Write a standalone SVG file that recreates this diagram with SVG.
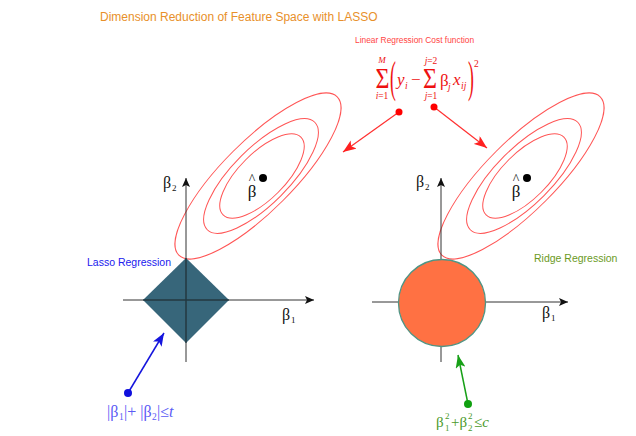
<svg xmlns="http://www.w3.org/2000/svg" width="636" height="436" viewBox="0 0 636 436">
<style>
.axis{stroke:#333;stroke-width:1;fill:none}
.ell{stroke:#ff5555;stroke-width:1;fill:none}
.serif{font-family:"Liberation Serif","DejaVu Serif",serif}
.sans{font-family:"Liberation Sans",Arial,sans-serif}
.blk{fill:#111}
.red{fill:#ee1111}
.blue{fill:#5a5af5}
.grn{fill:#4a9a2a}
</style>
<defs>
<marker id="ah" markerUnits="userSpaceOnUse" markerWidth="10" markerHeight="8" refX="9" refY="4" orient="auto"><path d="M0,0 L9,4 L0,8 L2,4 Z" fill="#111"/></marker>
<marker id="ar" markerUnits="userSpaceOnUse" markerWidth="14" markerHeight="10" refX="13" refY="5" orient="auto"><path d="M0,0 L13,5 L0,10 L3,5 Z" fill="#ff2020"/></marker>
<marker id="ab" markerUnits="userSpaceOnUse" markerWidth="14" markerHeight="10" refX="13" refY="5" orient="auto"><path d="M0,0 L13,5 L0,10 L3,5 Z" fill="#1515dd"/></marker>
<marker id="ag" markerUnits="userSpaceOnUse" markerWidth="14" markerHeight="10" refX="13" refY="5" orient="auto"><path d="M0,0 L13,5 L0,10 L3,5 Z" fill="#18a018"/></marker>
</defs>
<rect width="636" height="436" fill="#fff"/>

<text class="sans" x="100" y="21" font-size="12" fill="#e8902a">Dimension Reduction of Feature Space with LASSO</text>

<g id="cost-function">
<text class="sans" x="355" y="43" font-size="8.4" fill="#ff4444">Linear Regression Cost function</text>
<g class="serif red">
<text transform="translate(382.5,88) scale(0.8,1)" font-size="30" text-anchor="middle">Σ</text>
<text x="382" y="63" font-size="9" font-style="italic" text-anchor="middle">M</text>
<text x="382" y="99" font-size="9.5" text-anchor="middle"><tspan font-style="italic">i</tspan>=1</text>
<text transform="translate(390,92) scale(0.4,1)" font-size="44">(</text>
<text x="397" y="85" font-size="17" font-style="italic">y</text>
<text x="405" y="89" font-size="9.5" font-style="italic">i</text>
<text x="411" y="85" font-size="17">−</text>
<text transform="translate(430,88) scale(0.8,1)" font-size="30" text-anchor="middle">Σ</text>
<text x="431" y="64" font-size="9.5" text-anchor="middle"><tspan font-style="italic">j</tspan>=2</text>
<text x="431" y="99" font-size="9.5" text-anchor="middle"><tspan font-style="italic">j</tspan>=1</text>
<text x="440" y="86" font-size="17">β</text>
<text x="448" y="90" font-size="9.5" font-style="italic">j</text>
<text x="453" y="85" font-size="17" font-style="italic">x</text>
<text x="461" y="89" font-size="9.5" font-style="italic">ij</text>
<text transform="translate(468,92) scale(0.4,1)" font-size="44">)</text>
<text x="474" y="67" font-size="9.5">2</text>
</g>
</g>

<g id="lasso-panel">
<g id="lasso-contours">
<ellipse class="ell" cx="258" cy="176" rx="112" ry="35" transform="rotate(-45 258 176)"/>
<ellipse class="ell" cx="261" cy="176" rx="76" ry="28" transform="rotate(-45 261 176)"/>
<ellipse class="ell" cx="262" cy="176" rx="55" ry="23" transform="rotate(-45 262 176)"/>
<circle cx="263" cy="178" r="4" fill="#000"/>
<text class="serif blk" x="252" y="184" font-size="14" text-anchor="middle">^</text>
<text class="serif blk" x="252" y="197" font-size="17" text-anchor="middle">β</text>
</g>
<g id="lasso-region">
<polygon points="186,258 229,300 186,343 143,300" fill="#37667a"/>
</g>
<g id="lasso-axes">
<line class="axis" x1="123" y1="300" x2="314" y2="300" marker-end="url(#ah)"/>
<line class="axis" x1="186" y1="362" x2="186" y2="178" marker-end="url(#ah)"/>
<line x1="143" y1="300" x2="229" y2="300" stroke="#1d3a46" stroke-width="1"/>
<line x1="186" y1="258" x2="186" y2="343" stroke="#1d3a46" stroke-width="1"/>
<text class="serif blk" x="163" y="188" font-size="16">β</text>
<text class="serif blk" x="172" y="191" font-size="9">2</text>
<text class="serif blk" x="282" y="320" font-size="16">β</text>
<text class="serif blk" x="291" y="323" font-size="9">1</text>
</g>
<text id="lasso-label" class="sans" x="87" y="266" font-size="10.5" fill="#2020ee">Lasso Regression</text>
</g>

<g id="ridge-panel">
<g id="ridge-contours">
<ellipse class="ell" cx="521" cy="176" rx="112" ry="35" transform="rotate(-45 521 176)"/>
<ellipse class="ell" cx="524" cy="176" rx="76" ry="28" transform="rotate(-45 524 176)"/>
<ellipse class="ell" cx="525" cy="176" rx="55" ry="23" transform="rotate(-45 525 176)"/>
<circle cx="527" cy="178" r="4" fill="#000"/>
<text class="serif blk" x="516" y="184" font-size="14" text-anchor="middle">^</text>
<text class="serif blk" x="516" y="197" font-size="17" text-anchor="middle">β</text>
</g>
<g id="ridge-axes">
<line class="axis" x1="372" y1="302" x2="568" y2="302" marker-end="url(#ah)"/>
<line class="axis" x1="441" y1="362" x2="441" y2="178" marker-end="url(#ah)"/>
<text class="serif blk" x="416" y="187" font-size="16">β</text>
<text class="serif blk" x="425" y="190" font-size="9">2</text>
<text class="serif blk" x="542" y="318" font-size="16">β</text>
<text class="serif blk" x="551" y="321" font-size="9">1</text>
</g>
<g id="ridge-region">
<circle cx="442" cy="303" r="43.5" fill="#ff7143" stroke="#4f9585" stroke-width="1.3"/>
</g>
<text id="ridge-label" class="sans" x="534" y="262" font-size="10.5" fill="#6b9a1e">Ridge Regression</text>
</g>

<g id="connectors">
<line x1="399" y1="112" x2="343" y2="152" stroke="#ff3030" stroke-width="1.2" marker-end="url(#ar)"/>
<line x1="434" y1="107" x2="487" y2="148" stroke="#ff3030" stroke-width="1.2" marker-end="url(#ar)"/>
<circle cx="399" cy="112" r="3.5" fill="#ff0000"/>
<circle cx="434" cy="107" r="3.5" fill="#ff0000"/>
<line x1="128" y1="393" x2="164" y2="333" stroke="#1515dd" stroke-width="1.5" marker-end="url(#ab)"/>
<circle cx="128" cy="393" r="4" fill="#1010dd"/>
<line x1="468" y1="404" x2="458" y2="355" stroke="#18a018" stroke-width="1.5" marker-end="url(#ag)"/>
<circle cx="468" cy="404" r="4" fill="#10a010"/>
</g>

<g id="lasso-constraint" class="serif blue">
<text x="107" y="417" font-size="16">|β</text>
<text x="119" y="420" font-size="9.5">1</text>
<text x="124" y="417" font-size="16">|+ |β</text>
<text x="152" y="420" font-size="9.5">2</text>
<text x="157" y="417" font-size="16">|≤<tspan font-style="italic">t</tspan></text>
</g>

<g id="ridge-constraint" class="serif grn">
<text x="436" y="427" font-size="15">β</text>
<text x="445" y="419" font-size="9">2</text>
<text x="445" y="431" font-size="9">1</text>
<text x="451" y="427" font-size="15">+β</text>
<text x="468" y="419" font-size="9">2</text>
<text x="468" y="431" font-size="9">2</text>
<text x="474" y="427" font-size="15">≤<tspan font-style="italic">c</tspan></text>
</g>
</svg>
